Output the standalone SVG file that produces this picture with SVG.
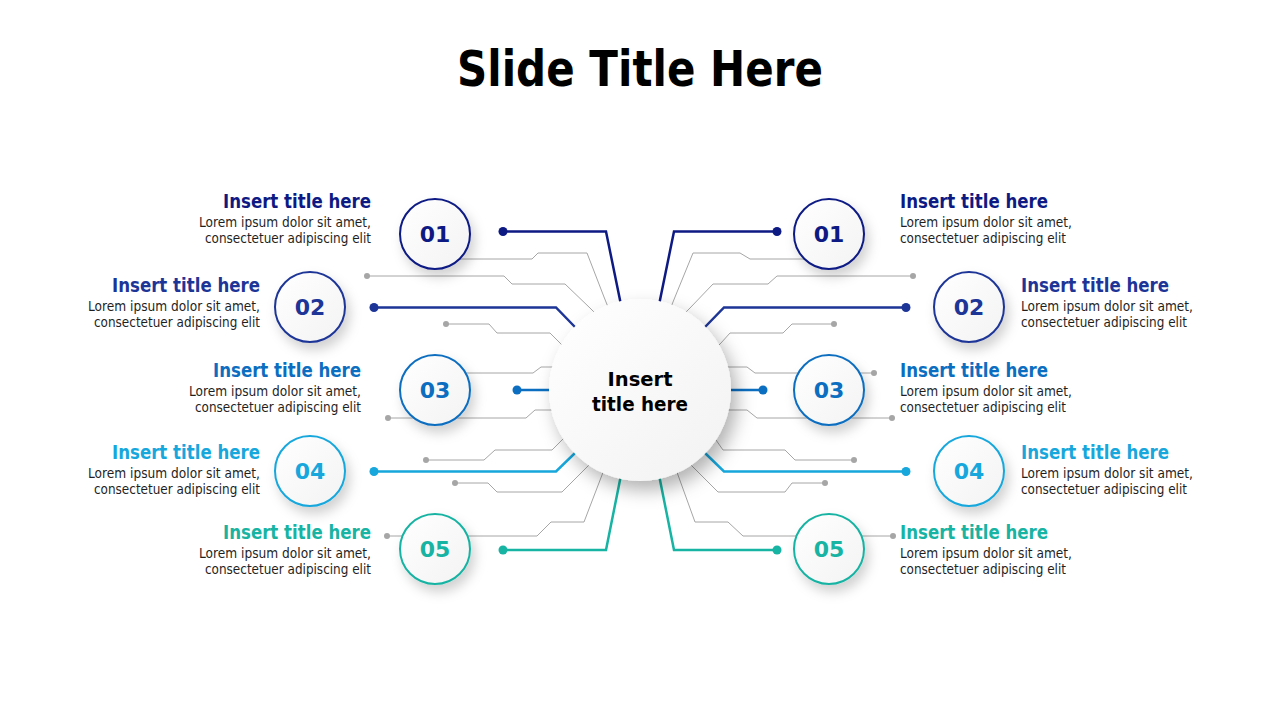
<svg xmlns="http://www.w3.org/2000/svg" width="1280" height="720" viewBox="0 0 1280 720">
  <defs>
    <filter id="sh" x="-50%" y="-50%" width="210%" height="210%">
      <feDropShadow dx="4" dy="7" stdDeviation="6" flood-color="#000" flood-opacity="0.18"/>
    </filter>
    <filter id="shBig" x="-30%" y="-30%" width="170%" height="170%">
      <feDropShadow dx="6" dy="9" stdDeviation="9" flood-color="#000" flood-opacity="0.3"/>
    </filter>
    <linearGradient id="gFill" x1="0" y1="0" x2="1" y2="1">
      <stop offset="0" stop-color="#ffffff"/>
      <stop offset="1" stop-color="#f3f3f3"/>
    </linearGradient>
    <linearGradient id="gBig" x1="0" y1="0" x2="1" y2="1">
      <stop offset="0" stop-color="#ffffff"/>
      <stop offset="1" stop-color="#f2f2f2"/>
    </linearGradient>
  </defs>
  <style>
    text { font-family: "DejaVu Sans", "Noto Sans", sans-serif; }
    .ttl { font-weight: bold; font-size: 19px; }
    .bdy { font-size: 13.5px; fill: #1f1f1f; }
    .num { font-weight: bold; font-size: 22px; text-anchor: middle; }
    .g { fill: none; stroke: #a6a6a6; stroke-width: 1; }
    .gd { fill: #a6a6a6; }
    .c { fill: none; stroke-width: 2.5; stroke-linejoin: miter; }
    .node { fill: url(#gFill); stroke-width: 2; filter: url(#sh); }
    .c1 { stroke: #0E1A84; } .f1 { fill: #0E1A84; }
    .c2 { stroke: #1D3597; } .f2 { fill: #1D3597; }
    .c3 { stroke: #0B6EC0; } .f3 { fill: #0B6EC0; }
    .c4 { stroke: #17A7DC; } .f4 { fill: #17A7DC; }
    .c5 { stroke: #17B3A3; } .f5 { fill: #17B3A3; }
  </style>
  <rect width="1280" height="720" fill="#ffffff"/>

  <text x="640" y="86" text-anchor="middle" font-size="49" font-weight="bold" fill="#000" textLength="366" lengthAdjust="spacingAndGlyphs">Slide Title Here</text>

  <g id="connectors">
    <!-- gray lines left -->
    <path class="g" d="M435 259 L532 259 L538 253 L587 253 L604 297 L608 307"/>
    <path class="g" d="M367 276 L504 276 L512 284 L565 284 L590 308 L596 314"/>
    <path class="g" d="M446 324 L489 324 L497 333 L550 333 L560 343 L565 348"/>
    <path class="g" d="M435 373 L533 373 L541 367 L562 367"/>
    <path class="g" d="M388 418 L526 418 L535 410 L562 410"/>
    <path class="g" d="M426 460 L484 460 L495 450 L552 450 L562 440 L567 435"/>
    <path class="g" d="M455 483 L488 483 L497 492 L562 492 L587 467 L592 462"/>
    <path class="g" d="M387 536 L537 536 L551 522 L584 522 L602 475 L605 467"/>
    <circle class="gd" cx="367" cy="276" r="3"/>
    <circle class="gd" cx="446" cy="324" r="3"/>
    <circle class="gd" cx="388" cy="418" r="3"/>
    <circle class="gd" cx="426" cy="460" r="3"/>
    <circle class="gd" cx="455" cy="483" r="3"/>
    <circle class="gd" cx="387" cy="536" r="3"/>
    <!-- gray lines right -->
    <path class="g" d="M829 259 L750 259 L740 253 L693 253 L675 297 L671 307"/>
    <path class="g" d="M913 276 L777 276 L768 284 L713 284 L690 308 L684 314"/>
    <path class="g" d="M834 324 L792 324 L783 333 L730 333 L721 343 L716 348"/>
    <path class="g" d="M874 373 L755 373 L747 367 L718 367"/>
    <path class="g" d="M892 418 L757 418 L747 410 L718 410"/>
    <path class="g" d="M854 460 L795 460 L785 450 L723 450 L716 440 L712 435"/>
    <path class="g" d="M825 483 L792 483 L785 492 L718 492 L693 467 L688 462"/>
    <path class="g" d="M893 536 L743 536 L728 522 L695 522 L678 475 L675 467"/>
    <circle class="gd" cx="913" cy="276" r="3"/>
    <circle class="gd" cx="834" cy="324" r="3"/>
    <circle class="gd" cx="874" cy="373" r="3"/>
    <circle class="gd" cx="892" cy="418" r="3"/>
    <circle class="gd" cx="854" cy="460" r="3"/>
    <circle class="gd" cx="825" cy="483" r="3"/>
    <circle class="gd" cx="893" cy="536" r="3"/>

    <!-- colored lines left -->
    <path class="c c1" d="M503 231.5 L606 231.5 L620 300 L622 310"/>
    <path class="c c2" d="M374 307.5 L556 307.5 L574 326 L579 331"/>
    <path class="c c3" d="M517 390 L556 390"/>
    <path class="c c4" d="M374 471.5 L556 471.5 L574 454 L579 449"/>
    <path class="c c5" d="M503 550 L606 550 L620 480 L622 470"/>
    <circle class="f1" cx="503" cy="231.5" r="4.5"/>
    <circle class="f2" cx="374" cy="307.5" r="4.5"/>
    <circle class="f3" cx="517" cy="390" r="4.5"/>
    <circle class="f4" cx="374" cy="471.5" r="4.5"/>
    <circle class="f5" cx="503" cy="550" r="4.5"/>
    <!-- colored lines right -->
    <path class="c c1" d="M777 231.5 L674 231.5 L660 300 L658 310"/>
    <path class="c c2" d="M906 307.5 L724 307.5 L706 326 L701 331"/>
    <path class="c c3" d="M763 390 L724 390"/>
    <path class="c c4" d="M906 471.5 L724 471.5 L706 454 L701 449"/>
    <path class="c c5" d="M777 550 L674 550 L660 480 L658 470"/>
    <circle class="f1" cx="777" cy="231.5" r="4.5"/>
    <circle class="f2" cx="906" cy="307.5" r="4.5"/>
    <circle class="f3" cx="763" cy="390" r="4.5"/>
    <circle class="f4" cx="906" cy="471.5" r="4.5"/>
    <circle class="f5" cx="777" cy="550" r="4.5"/>
  </g>

  <g id="center">
    <circle cx="640" cy="390" r="91" fill="url(#gBig)" filter="url(#shBig)"/>
    <text x="640" y="386" text-anchor="middle" font-size="20" font-weight="bold" fill="#000" textLength="65" lengthAdjust="spacingAndGlyphs">Insert</text>
    <text x="640" y="411" text-anchor="middle" font-size="20" font-weight="bold" fill="#000" textLength="96" lengthAdjust="spacingAndGlyphs">title here</text>
  </g>

  <!-- left nodes -->
  <g id="left-01">
    <circle class="node c1" cx="435" cy="234" r="35"/>
    <text class="num f1" x="435" y="242">01</text>
    <text class="ttl f1" x="371" y="208" text-anchor="end" textLength="148" lengthAdjust="spacingAndGlyphs">Insert title here</text>
    <text class="bdy" x="371" y="226.5" text-anchor="end" textLength="172" lengthAdjust="spacingAndGlyphs">Lorem ipsum dolor sit amet,</text>
    <text class="bdy" x="371" y="243" text-anchor="end" textLength="166" lengthAdjust="spacingAndGlyphs">consectetuer adipiscing elit</text>
  </g>
  <g id="left-02">
    <circle class="node c2" cx="310" cy="307" r="35"/>
    <text class="num f2" x="310" y="315">02</text>
    <text class="ttl f2" x="260" y="291.5" text-anchor="end" textLength="148" lengthAdjust="spacingAndGlyphs">Insert title here</text>
    <text class="bdy" x="260" y="310.5" text-anchor="end" textLength="172" lengthAdjust="spacingAndGlyphs">Lorem ipsum dolor sit amet,</text>
    <text class="bdy" x="260" y="327" text-anchor="end" textLength="166" lengthAdjust="spacingAndGlyphs">consectetuer adipiscing elit</text>
  </g>
  <g id="left-03">
    <circle class="node c3" cx="435" cy="390" r="35"/>
    <text class="num f3" x="435" y="398">03</text>
    <text class="ttl f3" x="361" y="376.5" text-anchor="end" textLength="148" lengthAdjust="spacingAndGlyphs">Insert title here</text>
    <text class="bdy" x="361" y="395.5" text-anchor="end" textLength="172" lengthAdjust="spacingAndGlyphs">Lorem ipsum dolor sit amet,</text>
    <text class="bdy" x="361" y="412" text-anchor="end" textLength="166" lengthAdjust="spacingAndGlyphs">consectetuer adipiscing elit</text>
  </g>
  <g id="left-04">
    <circle class="node c4" cx="310" cy="471" r="35"/>
    <text class="num f4" x="310" y="479">04</text>
    <text class="ttl f4" x="260" y="458.5" text-anchor="end" textLength="148" lengthAdjust="spacingAndGlyphs">Insert title here</text>
    <text class="bdy" x="260" y="477.5" text-anchor="end" textLength="172" lengthAdjust="spacingAndGlyphs">Lorem ipsum dolor sit amet,</text>
    <text class="bdy" x="260" y="494" text-anchor="end" textLength="166" lengthAdjust="spacingAndGlyphs">consectetuer adipiscing elit</text>
  </g>
  <g id="left-05">
    <circle class="node c5" cx="435" cy="549" r="35"/>
    <text class="num f5" x="435" y="557">05</text>
    <text class="ttl f5" x="371" y="538.5" text-anchor="end" textLength="148" lengthAdjust="spacingAndGlyphs">Insert title here</text>
    <text class="bdy" x="371" y="557.5" text-anchor="end" textLength="172" lengthAdjust="spacingAndGlyphs">Lorem ipsum dolor sit amet,</text>
    <text class="bdy" x="371" y="574" text-anchor="end" textLength="166" lengthAdjust="spacingAndGlyphs">consectetuer adipiscing elit</text>
  </g>

  <!-- right nodes -->
  <g id="right-01">
    <circle class="node c1" cx="829" cy="234" r="35"/>
    <text class="num f1" x="829" y="242">01</text>
    <text class="ttl f1" x="900" y="208" textLength="148" lengthAdjust="spacingAndGlyphs">Insert title here</text>
    <text class="bdy" x="900" y="226.5" textLength="172" lengthAdjust="spacingAndGlyphs">Lorem ipsum dolor sit amet,</text>
    <text class="bdy" x="900" y="243" textLength="166" lengthAdjust="spacingAndGlyphs">consectetuer adipiscing elit</text>
  </g>
  <g id="right-02">
    <circle class="node c2" cx="969" cy="307" r="35"/>
    <text class="num f2" x="969" y="315">02</text>
    <text class="ttl f2" x="1021" y="291.5" textLength="148" lengthAdjust="spacingAndGlyphs">Insert title here</text>
    <text class="bdy" x="1021" y="310.5" textLength="172" lengthAdjust="spacingAndGlyphs">Lorem ipsum dolor sit amet,</text>
    <text class="bdy" x="1021" y="327" textLength="166" lengthAdjust="spacingAndGlyphs">consectetuer adipiscing elit</text>
  </g>
  <g id="right-03">
    <circle class="node c3" cx="829" cy="390" r="35"/>
    <text class="num f3" x="829" y="398">03</text>
    <text class="ttl f3" x="900" y="376.5" textLength="148" lengthAdjust="spacingAndGlyphs">Insert title here</text>
    <text class="bdy" x="900" y="395.5" textLength="172" lengthAdjust="spacingAndGlyphs">Lorem ipsum dolor sit amet,</text>
    <text class="bdy" x="900" y="412" textLength="166" lengthAdjust="spacingAndGlyphs">consectetuer adipiscing elit</text>
  </g>
  <g id="right-04">
    <circle class="node c4" cx="969" cy="471" r="35"/>
    <text class="num f4" x="969" y="479">04</text>
    <text class="ttl f4" x="1021" y="458.5" textLength="148" lengthAdjust="spacingAndGlyphs">Insert title here</text>
    <text class="bdy" x="1021" y="477.5" textLength="172" lengthAdjust="spacingAndGlyphs">Lorem ipsum dolor sit amet,</text>
    <text class="bdy" x="1021" y="494" textLength="166" lengthAdjust="spacingAndGlyphs">consectetuer adipiscing elit</text>
  </g>
  <g id="right-05">
    <circle class="node c5" cx="829" cy="549" r="35"/>
    <text class="num f5" x="829" y="557">05</text>
    <text class="ttl f5" x="900" y="538.5" textLength="148" lengthAdjust="spacingAndGlyphs">Insert title here</text>
    <text class="bdy" x="900" y="557.5" textLength="172" lengthAdjust="spacingAndGlyphs">Lorem ipsum dolor sit amet,</text>
    <text class="bdy" x="900" y="574" textLength="166" lengthAdjust="spacingAndGlyphs">consectetuer adipiscing elit</text>
  </g>
</svg>
